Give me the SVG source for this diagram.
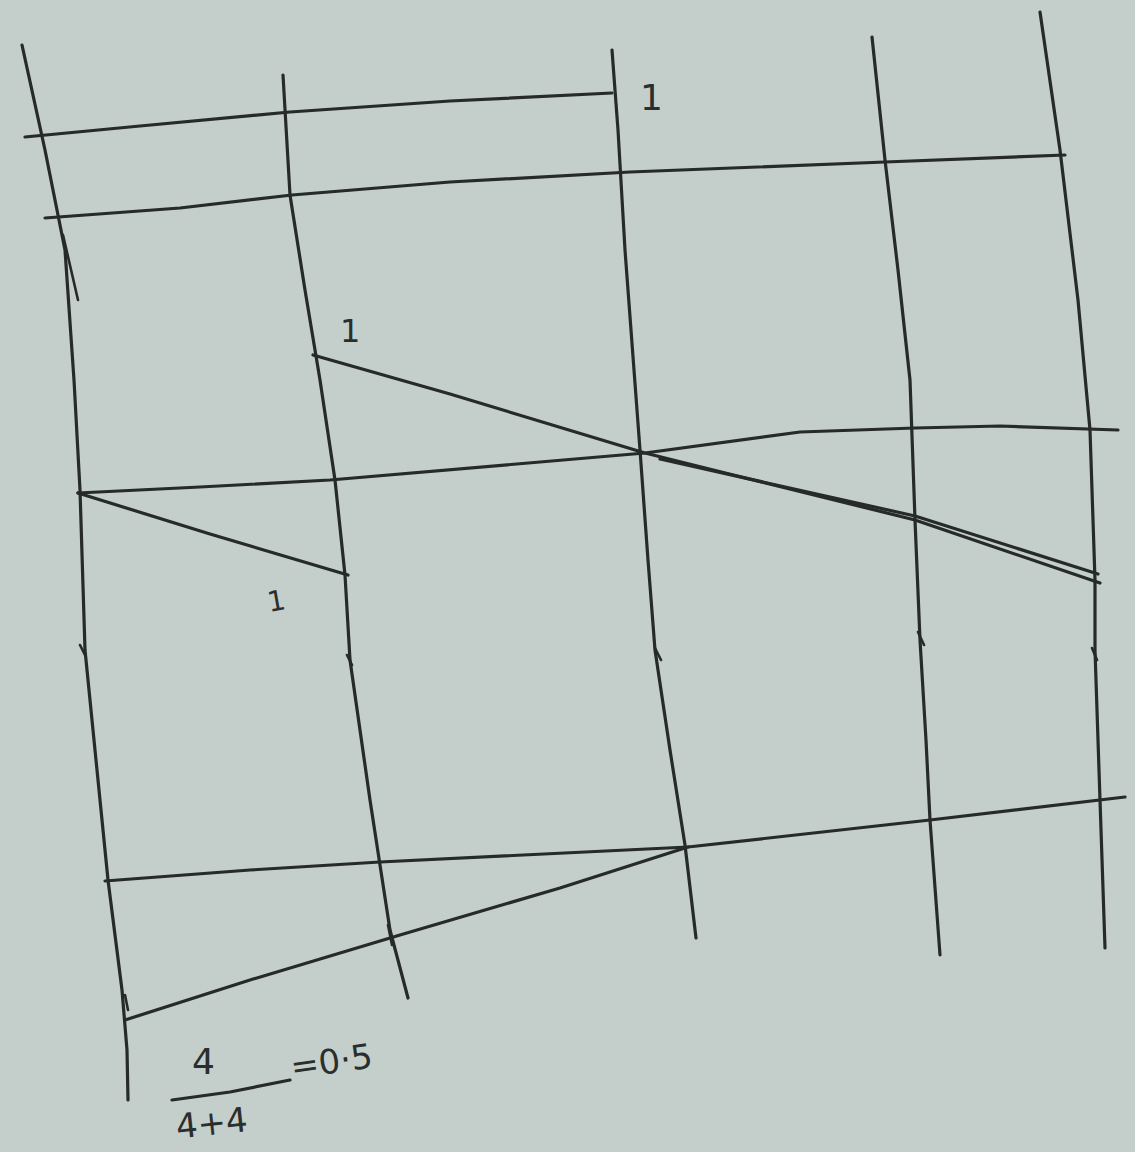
<svg xmlns="http://www.w3.org/2000/svg" width="1135" height="1152" viewBox="0 0 1135 1152">
<style>
.ln{fill:none;stroke:#262a28;stroke-width:3.2;stroke-linecap:round;stroke-linejoin:round}
.tk{fill:none;stroke:#262a28;stroke-width:2.6;stroke-linecap:round}
.lb{font-family:"DejaVu Sans","Liberation Sans",sans-serif;fill:#2a2e2c}
</style>
<rect width="1135" height="1152" fill="#c4cecb"/>
<g id="verticals">
<path class="ln" d="M22,45 L45,150 L65,250 L74,380 L80,490 L85,650 L98,780 L108,880 L122,990 L127,1050 L128,1100"/>
<path class="ln" d="M283,75 L290,195 L305,290 L320,380 L335,480 L345,575 L350,660 L370,800 L390,930 L408,998"/>
<path class="ln" d="M612,50 L618,130 L625,250 L640,450 L648,560 L655,650 L670,750 L685,845 L696,938"/>
<path class="ln" d="M872,37 L885,160 L898,270 L910,380 L915,520 L920,640 L926,740 L930,820 L940,955"/>
<path class="ln" d="M1040,12 L1060,150 L1078,300 L1090,430 L1095,580 L1095,650 L1100,800 L1105,948"/>
</g>
<g id="connectors">
<path class="ln" d="M25,137 L140,126 L290,112 L450,101 L612,93"/>
<path class="ln" d="M45,218 L180,208 L292,195 L450,182 L630,172 L885,162 L1065,155"/>
<path class="ln" d="M78,493 L200,487 L330,480 L645,453 L800,432 L915,428 L1000,426 L1118,430"/>
<path class="ln" d="M313,355 L450,394 L645,453 L915,520 L1100,583"/>
<path class="ln" d="M660,459 L915,516 L1098,574"/>
<path class="ln" d="M78,493 L210,534 L348,575"/>
<path class="ln" d="M105,881 L250,870 L380,862 L688,847 L930,820 L1125,797"/>
<path class="ln" d="M688,847 L560,888 L400,935 L250,980 L125,1020"/>
<path class="tk" d="M63,235 L78,300 M80,645 L85,655 M347,655 L352,665 M655,648 L661,660 M918,632 L924,645 M1092,648 L1097,660 M125,995 L128,1010 M388,925 L392,945"/>
</g>
<g id="labels">
<text class="lb" x="640" y="110" font-size="36">1</text>
<text class="lb" x="340" y="342" font-size="32">1</text>
<text class="lb" x="267" y="610" font-size="28" transform="rotate(-10 280 598)">1</text>
<text class="lb" x="192" y="1074" font-size="36">4</text>
<path class="ln" d="M172,1100 L230,1092 L290,1080"/>
<text class="lb" x="176" y="1134" font-size="34" transform="rotate(-6 220 1125)">4+4</text>
<text class="lb" x="290" y="1072" font-size="34" transform="rotate(-8 340 1060)">=0·5</text>
</g>
</svg>
